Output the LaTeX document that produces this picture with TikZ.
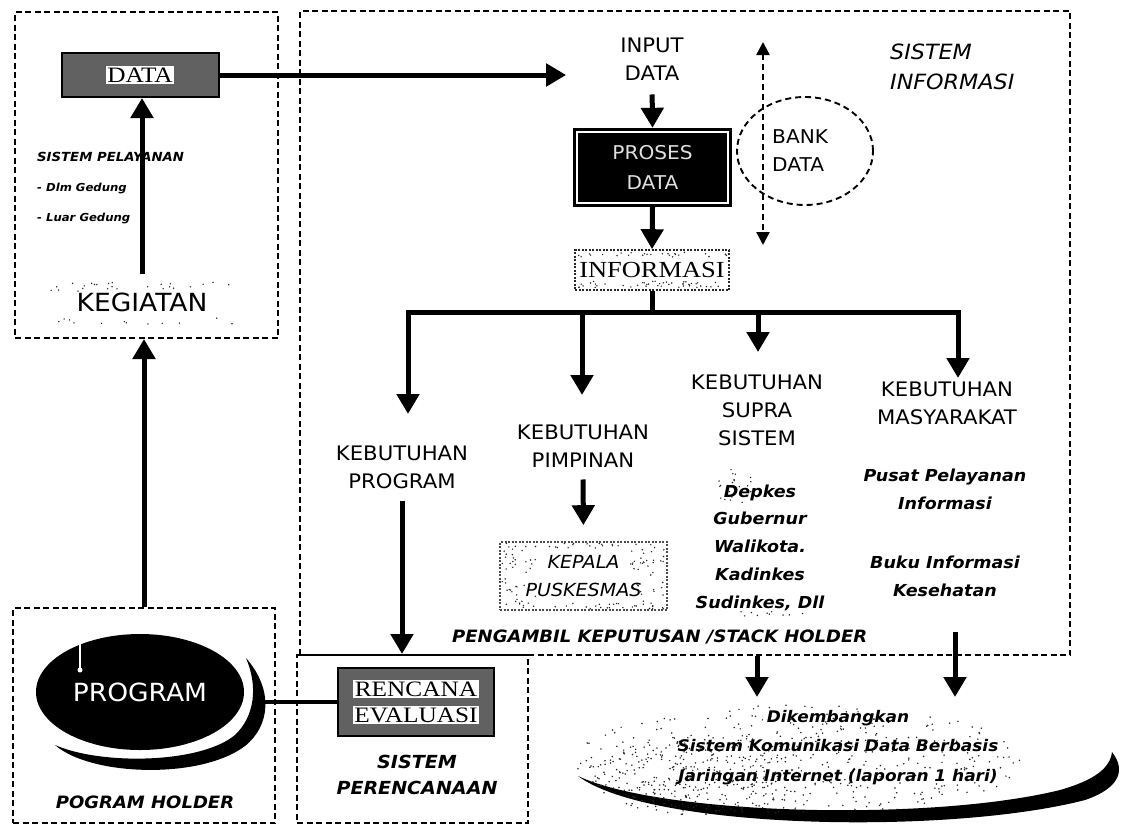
\documentclass[tikz,border=0pt]{standalone}
\usepackage{fontspec}
\setmainfont{DejaVu Sans}[FakeStretch=1.06]
\newfontfamily\boxfont{Liberation Serif}[FakeStretch=1.15]
\usetikzlibrary{arrows.meta,shapes.geometric,calc}
\setlength{\fboxsep}{1.5pt}

% random specks inside a rectangle: x y w h count seed
\newcommand\speckbox[6]{%
  \pgfmathsetseed{#6}%
  \foreach \k in {1,...,#5}{%
    \fill[black!85] ({#1+rnd*#3},{#2+rnd*#4}) circle[radius=0.8pt];}}
% random specks inside an oval: cx cy rx ry count seed
\newcommand\speckoval[6]{%
  \pgfmathsetseed{#6}%
  \foreach \k in {1,...,#5}{%
    \pgfmathsetmacro\ang{360*rnd}\pgfmathsetmacro\rad{sqrt(rnd)}%
    \fill[black!85] ({#1+#3*\rad*cos(\ang)},{#2+#4*\rad*sin(\ang)}) circle[radius=0.85pt];}}

\begin{document}
\begin{tikzpicture}[x=1pt,y=-1pt,
  lbl/.style={font=\fontsize{20}{28}\selectfont, align=center, inner sep=0pt},
  itl/.style={font=\fontsize{16.5}{27.75}\selectfont\bfseries\itshape, align=center, inner sep=0pt},
  dbox/.style={draw, line width=2pt, dash pattern=on 6pt off 3.5pt, rectangle, inner sep=0pt},
  darkbox/.style={fill=black!62, draw=black, line width=2pt, rectangle, align=center,
    font=\boxfont\fontsize{22}{26}\selectfont},
  speckframe/.style={draw=black!85, line width=1.6pt, dash pattern=on 2pt off 1.5pt, rectangle, align=center},
  arr/.style={line width=5pt, -{Triangle[width=22pt,length=20pt]}},
  dasharr/.style={line width=2.4pt, dash pattern=on 6pt off 4pt,
    {Triangle[width=13pt,length=13pt]}-{Triangle[width=13pt,length=13pt]}},
  link/.style={line width=5pt}
]
\useasboundingbox (0,0) rectangle (1134,827);
\fill[white] (0,0) rectangle (1134,827);

% dashed frames
\node[dbox, minimum width=263pt, minimum height=326pt] (leftbox) at (146.5,175) {};
\node[dbox, minimum width=770pt, minimum height=644pt] (bigbox) at (685,333) {};
\node[dbox, minimum width=262pt, minimum height=215pt] (holder) at (144,715.5) {};
\node[dbox, minimum width=231pt, minimum height=168pt] (perbox) at (412.5,739) {};

% ---- service side (top left) ----
\node[darkbox, minimum width=157pt, minimum height=44pt] (data) at (140,75) {\colorbox{white}{DATA}};
\node[lbl, font=\fontsize{25}{25}\selectfont] (kegiatan) at (142,302) {KEGIATAN};
\speckbox{50}{282}{190}{10}{25}{11}
\speckbox{50}{318}{190}{6}{12}{12}
\node[itl, font=\fontsize{12.5}{30}\selectfont\bfseries\itshape, align=left, anchor=west] (pelayanan) at (37,188)
  {SISTEM PELAYANAN\\{\fontsize{11}{11}\selectfont - Dlm Gedung}\\{\fontsize{11}{11}\selectfont - Luar Gedung}};

% ---- information system ----
\node[lbl] (input) at (652,59) {INPUT\\DATA};
\node[fill=black, minimum width=159pt, minimum height=79pt, inner sep=0pt, align=center,
  text=white!88!black, font=\fontsize{19}{30}\selectfont] (proses) at (652.5,167.5) {PROSES\\DATA};
\draw[white, line width=1.6pt] ($(proses.south west)+(4,-4)$) rectangle ($(proses.north east)+(-4,4)$);
\node[speckframe, minimum width=154pt, minimum height=40pt, font=\boxfont\fontsize{23}{23}\selectfont] (informasi) at (652,270) {INFORMASI};
\speckbox{578}{281}{152}{7}{45}{21}
\speckbox{577}{252}{150}{5}{25}{22}

\node[ellipse, draw, line width=1.9pt, dash pattern=on 6pt off 4pt, minimum width=136pt, minimum height=108pt] (bank) at (805,151) {};
\node[lbl, font=\fontsize{19}{28}\selectfont, align=left, anchor=west] (banktext) at (772,151) {BANK\\DATA};
\coordinate (bup) at (763,42);
\coordinate (bdown) at (763,245);
\draw[dasharr] (bup) -- (bdown);

\node[font=\fontsize{21}{30}\selectfont\itshape, align=left, anchor=west, inner sep=0pt] (sisinfo) at (890,67) {SISTEM\\INFORMASI};

\node[lbl] (kebprog) at (402,467) {KEBUTUHAN\\PROGRAM};
\node[lbl] (kebpimp) at (583,446) {KEBUTUHAN\\PIMPINAN};
\node[lbl] (kebsupra) at (757,410) {KEBUTUHAN\\SUPRA\\SISTEM};
\node[lbl] (kebmas) at (947,403) {KEBUTUHAN\\MASYARAKAT};

\node[speckframe, draw=black!70, minimum width=167pt, minimum height=68pt,
  font=\fontsize{18}{28}\selectfont\itshape] (kepala) at (583.5,576) {KEPALA\\PUSKESMAS};
\speckbox{501}{544}{35}{64}{40}{31}
\speckbox{630}{544}{36}{64}{40}{32}
\speckbox{501}{603}{165}{6}{30}{33}
\speckbox{501}{543}{165}{5}{20}{34}

\speckbox{718}{468}{34}{36}{22}{41}
\speckbox{740}{611}{70}{5}{10}{42}
\node[itl] (supralist) at (760,547.5) {Depkes\\Gubernur\\Walikota.\\Kadinkes\\Sudinkes, Dll};
\node[itl] (pusat) at (945,489) {Pusat Pelayanan\\Informasi};
\node[itl] (buku) at (945,576) {Buku Informasi\\Kesehatan};

\node[itl, font=\fontsize{17}{17}\selectfont\bfseries\itshape, anchor=west] (pengambil) at (452,637) {PENGAMBIL KEPUTUSAN /STACK HOLDER};

% ---- programme holder ----
\fill[black] (55,745) .. controls (90,776) and (200,780) .. (245,746)
  .. controls (270,726) and (274,690) .. (246,658)
  .. controls (258,686) and (255,716) .. (235,735)
  .. controls (200,764) and (100,765) .. (55,745) -- cycle;
\node[ellipse, fill=black, text=white, minimum width=208pt, minimum height=116pt, inner sep=0pt,
  font=\fontsize{25}{25}\selectfont] (program) at (140,692) {PROGRAM};
\draw[white, line width=1.2pt] (80,643) -- (80,669);
\fill[white] (80,670) circle[radius=2.5pt];
\coordinate (swoosh) at (262,702);
\node[itl, font=\fontsize{17}{17}\selectfont\bfseries\itshape] (holdertext) at (145,802) {POGRAM HOLDER};

% ---- planning ----
\node[darkbox, minimum width=156pt, minimum height=68pt] (rencana) at (416,702)
  {\colorbox{white}{RENCANA}\\[0pt]\colorbox{white}{EVALUASI}};
\node[itl, font=\fontsize{18}{26}\selectfont\bfseries\itshape] (sisper) at (417,775) {SISTEM\\PERENCANAAN};

% ---- communication network ----
\fill[black] (578,776) .. controls (650,830) and (950,835) .. (1085,800)
  .. controls (1120,788) and (1126,770) .. (1112,752)
  .. controls (1110,768) and (1095,780) .. (1060,790)
  .. controls (930,822) and (660,815) .. (578,776) -- cycle;
\speckoval{800}{760}{225}{55}{420}{51}
\speckoval{700}{775}{110}{40}{260}{52}
\node[itl, font=\fontsize{16}{29.5}\selectfont\bfseries\itshape] (komunikasi) at (838,747.5)
  {Dikembangkan\\Sistem Komunikasi Data Berbasis\\Jaringan Internet (laporan 1 hari)};

% ---- connectors ----
\draw[arr, shorten >=54pt] (data.east) -- (data.east -| input.west);
\draw[arr, shorten <=14pt] (input.south) -- (proses.north);
\draw[arr] (proses.south) -- (informasi.north);

\coordinate (b1) at (408,312);
\coordinate (b2) at (582,312);
\coordinate (b3) at (758,312);
\coordinate (b4) at (958,312);
\coordinate (j) at (informasi.south |- b1);
\coordinate (t1) at (408,414);
\coordinate (t2) at (582,395);
\coordinate (t3) at (758,352);
\coordinate (t4) at (958,378);
\draw[link] (informasi.south) -- (j);
\draw[arr] (j) -- (b1) -- (t1);
\draw[arr] (j) -- (b4) -- (t4);
\draw[arr] (b2) -- (t2);
\draw[arr] (b3) -- (t3);

\draw[arr, shorten <=12pt] (kebprog.south) -- (kebprog.south |- perbox.north);
\draw[arr, shorten <=12pt, shorten >=16pt] (kebpimp.south) -- (kepala.north);

\coordinate (d1) at (757,697);
\draw[arr] (bigbox.south -| d1) -- (d1);
\coordinate (d2s) at (955,632);
\coordinate (d2) at (955,697);
\draw[arr] (d2s) -- (d2);

\draw[arr, shorten <=18pt] (kegiatan.north) -- (kegiatan.north |- data.south);
\draw[arr] (holder.north) -- (holder.north |- leftbox.south);
\draw[link, line width=4pt] (swoosh) -- (rencana.west);
\end{tikzpicture}
\end{document}
